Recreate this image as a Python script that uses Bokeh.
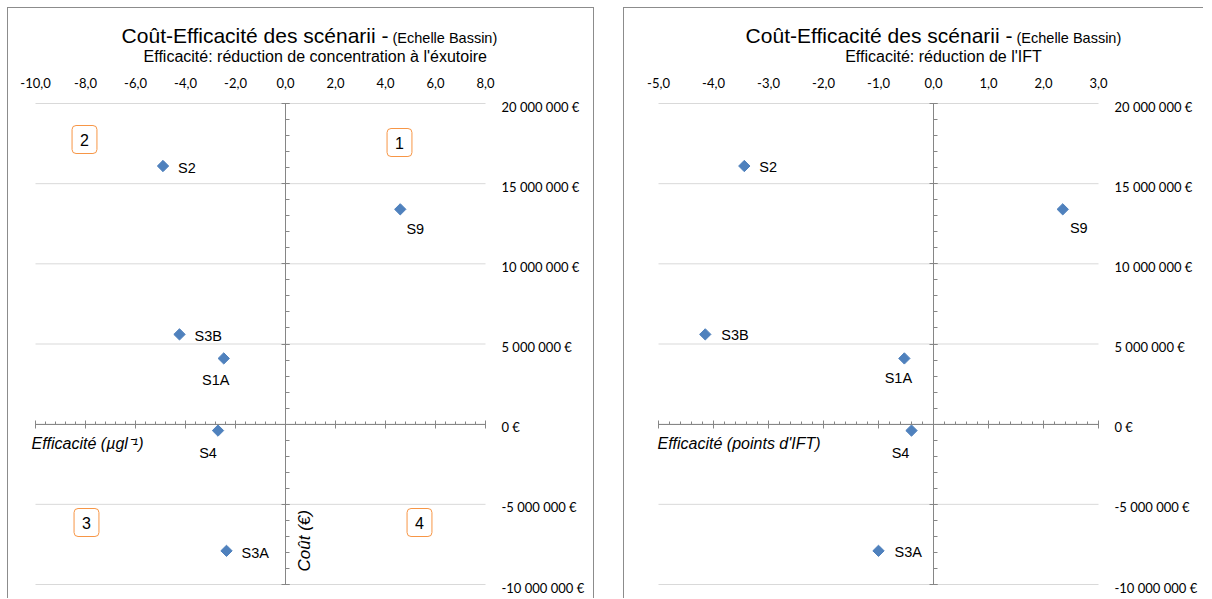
import math
from bokeh.plotting import figure
from bokeh.models import (Range1d, LinearAxis, FixedTicker, Label, LabelSet,
                          ColumnDataSource)
from bokeh.core.properties import value
from bokeh.layouts import row
from bokeh.embed import file_html
from bokeh.resources import INLINE

# ---------------- data ----------------
scenarios = ["S1A", "S2", "S3A", "S3B", "S4", "S9"]
cost_eur = [4.1e6, 16.1e6, -7.9e6, 5.6e6, -0.4e6, 13.4e6]
eff_concentration = [-2.47, -4.9, -2.36, -4.24, -2.7, 4.59]
eff_ift = [-0.53, -3.44, -1.0, -4.15, -0.40, 2.35]

y_ticks = [-10000000, -5000000, 0, 5000000, 10000000, 15000000, 20000000]
x_ticks_conc = [-10, -8, -6, -4, -2, 0, 2, 4, 6, 8]
x_ticks_ift = [-5, -4, -3, -2, -1, 0, 1, 2, 3]

title_main = "Coût-Efficacité des scénarii -"
title_scale = "(Echelle Bassin)"
subtitle_conc = "Efficacité: réduction de concentration  à l'éxutoire"
subtitle_ift = "Efficacité: réduction de l'IFT"
xlabel_conc = "Efficacité (µgl\u207b\u00b9)"
xlabel_ift = "Efficacité (points d'IFT)"
ylabel = "Coût (€)"
quadrants = ["1", "2", "3", "4"]

# ---------------- styles / layout ----------------
MARKER = "#4F81BD"
AXIS_C = "#868686"
GRID_C = "#D9D9D9"
BORDER_C = "#8C8C8C"
ORANGE = "#F79646"
TICK_FONT = "Lato"
TXT_FONT = "Liberation Sans"

# label placement (screen px: dx right, dy down) and alignment per scenario
lbl_conc = {"S1A": (-8, 22, "center"), "S2": (15, 2, "left"), "S3A": (15, 2, "left"),
            "S3B": (15, 2, "left"), "S4": (-10, 22, "center"), "S9": (15, 20, "center")}
lbl_ift = {"S1A": (-6, 20, "center"), "S2": (15, 1, "left"), "S3A": (16, 1, "left"),
           "S3B": (16, 1, "left"), "S4": (-11, 22, "center"), "S9": (16, 19, "center")}

PAGE_TOP = 8
FIG_H = 591
DATA_TOP_PX = 103
DATA_BOT_PX = 584


def fmt_eur(v):
    return "{:,}".format(int(v)).replace(",", " ") + " €"


def fmt_dec(v):
    return ("%.1f" % v).replace(".", ",")


def make_chart(xvals, xticks, xminor_step, labels_pos, page_left, fig_w, data_left_px,
               data_right_px, borders):
    xmin, xmax = xticks[0], xticks[-1]
    ymin, ymax = y_ticks[0], y_ticks[-1]
    sx = (data_right_px - data_left_px) / (xmax - xmin)
    sy = (DATA_BOT_PX - DATA_TOP_PX) / (ymax - ymin)
    x_start = xmin - (data_left_px - page_left) / sx
    x_end = xmax + (page_left + fig_w - data_right_px) / sx
    y_end = ymax + (DATA_TOP_PX - PAGE_TOP) / sy
    y_start = ymin - (PAGE_TOP + FIG_H - DATA_BOT_PX) / sy

    p = figure(width=fig_w, height=FIG_H, output_backend="svg", toolbar_location=None,
               x_range=Range1d(x_start, x_end), y_range=Range1d(y_start, y_end),
               x_axis_location=None, y_axis_location=None,
               min_border=0, min_border_left=0, min_border_right=0,
               min_border_top=0, min_border_bottom=0,
               background_fill_color="white", border_fill_color="white")
    p.outline_line_color = None
    p.xgrid.visible = False
    p.ygrid.visible = False
    p.styles = borders

    def xd(px):
        return xmin + (px - data_left_px) / sx

    def yd(py):
        return ymax - (py - DATA_TOP_PX) / sy

    nmin = int(round((xmax - xmin) / xminor_step))
    xminor = [xmin + i * xminor_step for i in range(nmin + 1)]
    yminor = [ymin + i * 1000000 for i in range(31)]

    # horizontal gridlines at the cost ticks
    p.segment(x0=[xmin] * len(y_ticks), x1=[xmax] * len(y_ticks), y0=y_ticks, y1=y_ticks,
              line_color=GRID_C, line_width=1)

    # center x axis (crossing at cost 0): ticks up and down
    xc = LinearAxis(ticker=FixedTicker(ticks=xticks, minor_ticks=xminor), fixed_location=0,
                    bounds=(xmin, xmax),
                    axis_line_color=AXIS_C, major_tick_line_color=AXIS_C,
                    minor_tick_line_color=AXIS_C, major_tick_in=4, major_tick_out=4,
                    minor_tick_in=0, minor_tick_out=3,
                    major_label_overrides={v: "" for v in xticks},
                    major_label_text_font_size="1px", major_label_standoff=0)
    p.add_layout(xc, "above")
    # center y axis (crossing at efficacy 0)
    yc = LinearAxis(ticker=FixedTicker(ticks=y_ticks, minor_ticks=yminor), fixed_location=0,
                    bounds=(ymin, ymax),
                    axis_line_color=AXIS_C, major_tick_line_color=AXIS_C,
                    minor_tick_line_color=AXIS_C, major_tick_in=4, major_tick_out=4,
                    minor_tick_in=4, minor_tick_out=0,
                    major_label_overrides={v: "" for v in y_ticks},
                    major_label_text_font_size="1px", major_label_standoff=0)
    p.add_layout(yc, "left")

    # top tick labels
    top_src = ColumnDataSource(dict(x=xticks, y=[yd(82)] * len(xticks),
                                    t=[fmt_dec(v) for v in xticks]))
    p.add_layout(LabelSet(x="x", y="y", text="t", source=top_src, text_align="center",
                          text_baseline="middle", text_font=value(TICK_FONT),
                          text_font_size=value("13px"), text_color="#000000"))
    # right tick labels
    right_src = ColumnDataSource(dict(x=[xd(data_right_px + 16)] * len(y_ticks), y=y_ticks,
                                      t=[fmt_eur(v) for v in y_ticks]))
    p.add_layout(LabelSet(x="x", y="y", text="t", source=right_src, text_align="left",
                          text_baseline="middle", y_offset=-3, text_font=value(TICK_FONT),
                          text_font_size=value("13px"), text_color="#000000"))

    # points
    src = ColumnDataSource(dict(
        x=xvals, y=cost_eur, name=scenarios,
        dx=[labels_pos[n][0] for n in scenarios],
        dy=[-labels_pos[n][1] for n in scenarios]))
    p.scatter("x", "y", source=src, marker="square", angle=math.pi / 4, size=8,
              fill_color=MARKER, line_color=MARKER)
    for align in ("left", "center"):
        idx = [i for i, n in enumerate(scenarios) if labels_pos[n][2] == align]
        s2 = ColumnDataSource({k: [src.data[k][i] for i in idx] for k in src.data})
        p.add_layout(LabelSet(x="x", y="y", text="name", source=s2, x_offset="dx",
                              y_offset="dy", text_align=align, text_baseline="middle",
                              text_font=value(TXT_FONT), text_font_size=value("14.5px"),
                              text_color="#000000"))
    return p, xd, yd


p1, xd1, yd1 = make_chart(eff_concentration, x_ticks_conc, 0.4, lbl_conc, 8, 587, 35, 485,
                          {"border-top": "1px solid " + BORDER_C,
                           "border-left": "1px solid " + BORDER_C,
                           "border-right": "1px solid " + BORDER_C})
p2, xd2, yd2 = make_chart(eff_ift, x_ticks_ift, 0.2, lbl_ift, 624, 580, 658, 1098,
                          {"border-top": "1px solid " + BORDER_C,
                           "border-left": "1px solid " + BORDER_C})


def add_titles(p, xd, yd, split_px, subtitle, sub_center_px, xlabel, xlabel_px):
    p.add_layout(Label(x=xd(split_px), y=yd(35), text=title_main, text_align="right",
                       text_baseline="middle", text_font=TXT_FONT,
                       text_font_size="21px", text_color="#000000"))
    p.add_layout(Label(x=xd(split_px + 4), y=yd(37), text=title_scale, text_align="left",
                       text_baseline="middle", text_font=TXT_FONT,
                       text_font_size="14.5px", text_color="#000000"))
    p.add_layout(Label(x=xd(sub_center_px), y=yd(56), text=subtitle, text_align="center",
                       text_baseline="middle", text_font=TXT_FONT,
                       text_font_size="16px", text_color="#000000"))
    p.add_layout(Label(x=xd(xlabel_px), y=yd(443), text=xlabel, text_align="left",
                       text_baseline="middle", text_font=TXT_FONT, text_font_style="italic",
                       text_font_size="16px", text_color="#000000"))


add_titles(p1, xd1, yd1, 388, subtitle_conc, 317, xlabel_conc, 31)
add_titles(p2, xd2, yd2, 1012, subtitle_ift, 943, xlabel_ift, 657)

# vertical axis title (left chart)
p1.add_layout(Label(x=xd1(294), y=yd1(571), text=ylabel, angle=math.pi / 2,
                    text_align="left", text_baseline="top", text_font=TXT_FONT,
                    text_font_style="italic", text_font_size="17px", text_color="#000000"))

# quadrant boxes (left chart)
quad_px = {"1": (399, 142), "2": (84, 139), "3": (86, 522), "4": (419, 522)}
for q in quadrants:
    qx, qy = quad_px[q]
    p1.add_layout(Label(x=xd1(qx), y=yd1(qy), text=q, text_align="center",
                        text_baseline="middle", text_font=TXT_FONT, text_font_size="16px",
                        text_color="#000000", border_line_color=ORANGE,
                        border_line_width=1, background_fill_color="white",
                        padding=8, border_radius=4))

layout = row(p1, p2, spacing=29, margin=(7, 0, 0, 7))
open("out.html", "w").write(file_html(layout, INLINE))
